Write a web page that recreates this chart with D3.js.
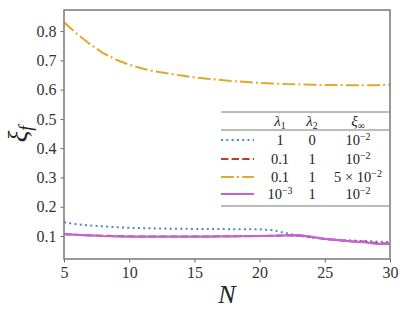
<!DOCTYPE html>
<meta charset="utf-8">
<html>
<head>
    <script src="https://d3js.org/d3.v7.min.js"></script>
    <style>
        body { margin: 0; background: #fff; }
    </style>
</head>
<body>
    <div id="chart"></div>
    <script>
        // data, xi_f vs N
        const N = [5, 6, 7, 8, 9, 10, 11, 12, 13, 14, 15, 16, 17, 18, 19, 20, 21, 22, 23, 24, 25, 26, 27, 28, 29, 30];
        const seriesBlue = [0.147, 0.140, 0.136, 0.133, 0.130, 0.128, 0.127, 0.126, 0.125, 0.125, 0.124, 0.124, 0.124, 0.123, 0.123, 0.123, 0.120, 0.110, 0.100, 0.095, 0.090, 0.087, 0.085, 0.083, 0.081, 0.079];
        const seriesRed = [0.106, 0.104, 0.102, 0.101, 0.100, 0.099, 0.098, 0.098, 0.098, 0.098, 0.098, 0.098, 0.099, 0.099, 0.099, 0.100, 0.101, 0.102, 0.102, 0.097, 0.090, 0.086, 0.082, 0.081, 0.076, 0.073];
        const seriesGold = [0.830, 0.790, 0.755, 0.725, 0.702, 0.685, 0.672, 0.662, 0.655, 0.648, 0.642, 0.637, 0.633, 0.629, 0.626, 0.623, 0.621, 0.619, 0.618, 0.617, 0.616, 0.616, 0.615, 0.615, 0.615, 0.617];
        const seriesMagenta = [0.107, 0.104, 0.102, 0.100, 0.099, 0.098, 0.098, 0.098, 0.098, 0.098, 0.098, 0.098, 0.099, 0.099, 0.100, 0.100, 0.101, 0.102, 0.103, 0.097, 0.090, 0.086, 0.082, 0.079, 0.073, 0.073];

        const xTicks = [5, 10, 15, 20, 25, 30];
        const yTicks = [0.1, 0.2, 0.3, 0.4, 0.5, 0.6, 0.7, 0.8];

        // legend table rows: lambda1, lambda2, xi_inf
        const lam1 = ["1", "0.1", "0.1", "10^-3"];
        const lam2 = ["0", "1", "1", "1"];
        const xiInf = ["10^-2", "10^-2", "5 × 10^-2", "10^-2"];

        const FONT = "Liberation Serif";

        const series = [
            { vals: seriesBlue, color: "#4f86c6", dash: "2,3.3", w: 2 },
            { vals: seriesRed, color: "#c03a30", dash: "7.4,3.2", w: 2 },
            { vals: seriesGold, color: "#dfaa2a", dash: "12.8,3.2,2,3.2", w: 2 },
            { vals: seriesMagenta, color: "#c462d8", dash: null, w: 2.2 }
        ];

        const W = 409, H = 316;
        const margin = { top: 10, right: 19, bottom: 57, left: 64 };
        const width = W - margin.left - margin.right,
            height = H - margin.top - margin.bottom;

        const svg = d3.select("#chart").append("svg")
            .attr("width", W).attr("height", H)
            .attr("font-family", FONT);
        const g = svg.append("g")
            .attr("transform", `translate(${margin.left},${margin.top})`);

        const x = d3.scaleLinear().domain([5, 30]).range([0, width]);
        const y = d3.scaleLinear().domain([0.0215, 0.872]).range([height, 0]);

        // lines
        const line = d3.line().x((d, i) => x(N[i])).y(d => y(d));
        g.append("defs").append("clipPath").attr("id", "clip")
            .append("rect").attr("width", width).attr("height", height);
        series.forEach(s => {
            g.append("path")
                .datum(s.vals)
                .attr("clip-path", "url(#clip)")
                .attr("fill", "none")
                .attr("stroke", s.color)
                .attr("stroke-width", s.w)
                .attr("stroke-dasharray", s.dash)
                .attr("d", line);
        });

        // axes
        const xAxis = g.append("g").attr("transform", `translate(0,${height})`)
            .call(d3.axisBottom(x).tickValues(xTicks).tickSize(3.5).tickPadding(4));
        const yAxis = g.append("g")
            .call(d3.axisLeft(y).tickValues(yTicks).tickFormat(d3.format(".1f")).tickSize(3.5).tickPadding(4));
        [xAxis, yAxis].forEach(a => {
            a.attr("font-family", FONT).attr("font-size", 16);
            a.select(".domain").remove();
            a.selectAll("line").attr("stroke", "#555").attr("stroke-width", 0.9);
            a.selectAll("text").attr("fill", "#333");
        });

        // frame
        g.append("rect").attr("width", width).attr("height", height)
            .attr("fill", "none").attr("stroke", "#808080").attr("stroke-width", 1.6);

        // axis labels
        svg.append("text")
            .attr("x", margin.left + width / 2).attr("y", 303)
            .attr("text-anchor", "middle")
            .attr("font-size", 26).attr("font-style", "italic").attr("fill", "#222")
            .text("N");

        const yl = svg.append("text")
            .attr("transform", "translate(27,134) rotate(-90)")
            .attr("text-anchor", "middle").attr("fill", "#222")
            .attr("font-size", 27).attr("font-style", "italic");
        yl.append("tspan").text("ξ");
        yl.append("tspan").attr("dy", 5).attr("font-size", 18).text("f");

        // legend table
        const lg = svg.append("g").attr("fill", "#222");
        const lx0 = 221, lx1 = 389;
        [112, 130, 206].forEach(yy => {
            lg.append("line").attr("x1", lx0).attr("x2", lx1).attr("y1", yy).attr("y2", yy)
                .attr("stroke", "#555").attr("stroke-width", 0.8);
        });
        const colX = [280, 312, 358];
        const rowY = [145, 164, 182, 199];

        function mathText(sel, s, cx, cy) {
            const t = sel.append("text").attr("x", cx).attr("y", cy)
                .attr("text-anchor", "middle").attr("font-size", 14.5);
            const m = s.split("^");
            t.append("tspan").text(m[0]);
            if (m.length > 1) {
                t.append("tspan").attr("dy", -5).attr("font-size", 10).text(m[1].replace("-", "−"));
            }
            return t;
        }

        // header
        [["λ", "1"], ["λ", "2"], ["ξ", "∞"]].forEach((h, i) => {
            const t = lg.append("text").attr("x", colX[i]).attr("y", 126)
                .attr("text-anchor", "middle").attr("font-size", 15).attr("font-style", "italic");
            t.append("tspan").text(h[0]);
            t.append("tspan").attr("dy", 2.5).attr("font-size", 10).attr("font-style", "normal").text(h[1]);
        });

        series.forEach((s, i) => {
            const yy = rowY[i] - 5;
            lg.append("line").attr("x1", 221).attr("x2", 254).attr("y1", yy).attr("y2", yy)
                .attr("stroke", s.color).attr("stroke-width", s.w)
                .attr("stroke-dasharray", s.dash);
            mathText(lg, lam1[i], colX[0], rowY[i]);
            mathText(lg, lam2[i], colX[1], rowY[i]);
            mathText(lg, xiInf[i], colX[2], rowY[i]);
        });
    </script>
</body>
</html>
